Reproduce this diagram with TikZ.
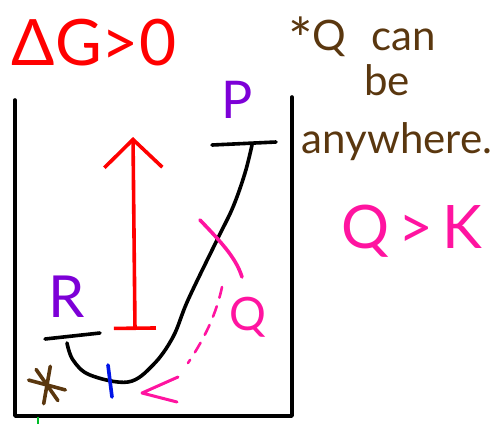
\documentclass[tikz,border=0pt]{standalone}
\usepackage{fontspec}
\setmainfont{Lato}
\usepackage{tikz}
\usetikzlibrary{arrows.meta}
\usetikzlibrary{calc}
\definecolor{penred}{RGB}{255,0,0}
\definecolor{penpurple}{RGB}{125,0,215}
\definecolor{penpink}{RGB}{255,20,160}
\definecolor{penbrown}{RGB}{90,55,15}
\definecolor{penblue}{RGB}{0,20,230}
\definecolor{pengreen}{RGB}{0,190,40}
\tikzstyle{ink} = [line width=3.6pt, line cap=round, line join=round]
\tikzstyle{t} = [inner sep=0pt, anchor=base]

\begin{document}
\begin{tikzpicture}[x=1pt,y=-1pt]
		\useasboundingbox (0,0) rectangle (492,424);
		% container
		\coordinate (b1) at (15,100);
		\coordinate (b2) at (15,416);
		\coordinate (b3) at (292,416);
		\coordinate (b4) at (292,97);
		\draw[ink] (b1) -- (b2) -- (b3) -- (b4);
		\draw[pengreen, line width=2pt] (38,417) -- (38,424);
		% labels
		\node[t, penred, font=\fontsize{64}{64}\selectfont] (dg) at (94,65) {ΔG>0};
		\node[t, penbrown, font=\fontsize{42}{42}\selectfont] (n1) at (362,50) {\raisebox{-0.25em}{\fontsize{58}{58}\selectfont *}Q\hspace{0.6em}can};
		\node[t, penbrown, font=\fontsize{42}{42}\selectfont] (n2) at (387,95) {be};
		\node[t, penbrown, font=\fontsize{42}{42}\selectfont] (n3) at (397,153) {anywhere.};
		\node[t, penpink, font=\fontsize{60}{60}\selectfont] (qk) at (412,248) {Q\hspace{0.15em}>\hspace{0.15em}K};
		\node[t, penpurple, font=\fontsize{52}{52}\selectfont] (p) at (237,118) {P};
		\node[t, penpurple, font=\fontsize{58}{58}\selectfont] (r) at (67,317) {R};
		\node[t, penpink, font=\fontsize{46}{46}\selectfont] (q) at (248,330) {Q};
		% energy levels
		\coordinate (p1) at (212,145);
		\coordinate (p2) at (276,142);
		\coordinate (r1) at (45,339);
		\coordinate (r2) at (100,333);
		\draw[ink] (p1) -- (p2);
		\draw[ink] (r1) -- (r2);
		\draw[ink] plot[smooth, tension=0.6] coordinates {(252,145) (245,173) (233,207) (217,240) (188,300) (173,337) (153,365) (128,382) (90,375) (73,360) (67,343)};
		% free energy gap
		\coordinate (lo) at (135,330);
		\coordinate (hi) at (133,137);
		\draw[ink, penred, {Bar[width=42pt, line width=3.6pt]}-{Straight Barb[length=28pt, width=58pt, line width=3.6pt]}] (lo) -- (hi);
		% marks
		\draw[ink, penblue] (108,365) -- (112,397);
		\foreach \a in {15,100,55} {
			\draw[ink, penbrown] ($(47,385)+(\a:19)$) -- ($(47,385)+(\a+180:19)$);
		}
		\draw[ink, penpink] (200,220) .. controls (222,243) and (236,258) .. (242,277);
		% Q position
		\coordinate (qa) at (222,287);
		\coordinate (qb) at (188,363);
		\coordinate (qh) at (142,393);
		\draw[ink, penpink, line width=2.6pt, dash pattern=on 11pt off 9pt] (qa) .. controls (215,320) and (200,345) .. (qb);
		\draw[ink, penpink, line width=3pt] (178,377) -- (qh) -- (177,402);
	\end{tikzpicture}
\end{document}
